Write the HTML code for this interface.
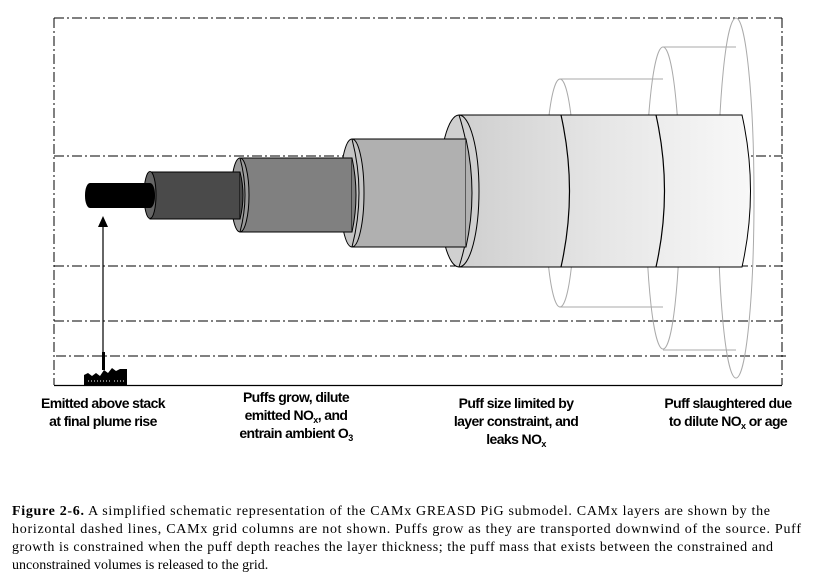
<!DOCTYPE html>
<html><head><meta charset="utf-8"><style>
html,body{margin:0;padding:0;background:#fff;width:813px;height:576px;overflow:hidden}
svg{display:block}
.l{font-family:"Liberation Sans",sans-serif;font-size:14px;font-weight:bold;text-anchor:middle;letter-spacing:-0.6px}
.c{font-family:"Liberation Serif",serif;font-size:14px}
</style></head><body>
<svg width="813" height="576" viewBox="0 0 813 576">
<defs>
<linearGradient id="g5" x1="0" x2="1"><stop offset="0" stop-color="#cfcfcf"/><stop offset="0.5" stop-color="#e6e6e6"/><stop offset="1" stop-color="#f8f8f8"/></linearGradient>
</defs>
<g stroke="#000" stroke-width="1" stroke-dasharray="10,3,2,3" fill="none">
<line x1="54" y1="18" x2="782" y2="18"/>
<line x1="54" y1="156" x2="782" y2="156"/>
<line x1="54" y1="266" x2="782" y2="266"/>
<line x1="54" y1="321" x2="782" y2="321"/>
<line x1="56" y1="356" x2="786" y2="356"/>
<line x1="54" y1="18" x2="54" y2="385"/>
<line x1="782" y1="18" x2="782" y2="385"/>
</g>
<line x1="54" y1="385.5" x2="782" y2="385.5" stroke="#000" stroke-width="1.2"/>
<g stroke="#aaa" fill="none" stroke-width="1">
<ellipse cx="560" cy="193" rx="15" ry="114"/>
<ellipse cx="663" cy="198" rx="17" ry="151"/>
<ellipse cx="736" cy="198" rx="18" ry="180"/>
<line x1="560" y1="79" x2="663" y2="79"/>
<line x1="560" y1="307" x2="663" y2="307"/>
<line x1="663" y1="47" x2="736" y2="47"/>
<line x1="663" y1="350" x2="736" y2="350"/>
</g>
<path d="M459,115 L742,115 Q759,191 742,267 L459,267 Z" fill="url(#g5)" stroke="#000"/>
<g fill="none" stroke="#000" stroke-width="1.2">
<path d="M561,115 Q578,191 561,267"/>
<path d="M656,115 Q673,191 656,267"/>
</g>
<ellipse cx="459" cy="191" rx="20" ry="76" fill="#d0d0d0" stroke="#000"/>
<path d="M459,115 Q483,191 459,267" fill="none" stroke="#000"/>
<rect x="352" y="139" width="114" height="108" fill="#b0b0b0" stroke="#000"/>
<path d="M466,139 Q478,193 466,247" fill="#b0b0b0" stroke="#000"/>
<ellipse cx="352" cy="193" rx="12" ry="54" fill="#c4c4c4" stroke="#000"/>
<path d="M352,139 Q366,193 352,247" fill="none" stroke="#000"/>
<rect x="240" y="158" width="112" height="74" fill="#808080" stroke="#000"/>
<path d="M352,158 Q360,195 352,232" fill="#808080" stroke="#000"/>
<ellipse cx="240" cy="195" rx="9" ry="37" fill="#999" stroke="#000"/>
<path d="M240,158 Q250,195 240,232" fill="none" stroke="#000"/>
<rect x="150" y="172" width="90" height="47" fill="#4a4a4a" stroke="#000"/>
<path d="M240,172 Q246,195 240,219" fill="#4a4a4a" stroke="#000"/>
<ellipse cx="150" cy="195" rx="6" ry="23.5" fill="#666" stroke="#000"/>
<rect x="85" y="183" width="70" height="25" rx="5" ry="12" fill="#000"/>
<line x1="103" y1="354" x2="103" y2="225" stroke="#000" stroke-width="1.2"/>
<polygon points="103,216 98,227 108,227" fill="#000"/>
<rect x="102" y="352" width="3" height="18" fill="#000"/>
<polygon points="84,385 84,375 88,373 92,376 96,373 100,376 104,370 108,373 112,368 116,371 120,369 127,369 127,385" fill="#000"/>
<g stroke="#fff" stroke-width="1"><line x1="88" y1="381" x2="112" y2="381" stroke-dasharray="1,2"/><line x1="114" y1="381" x2="126" y2="381" stroke-dasharray="1,2"/></g>
<text class="l" x="103" y="408">Emitted above stack</text>
<text class="l" x="103" y="426">at final plume rise</text>
<text class="l" x="296" y="402">Puffs grow, dilute</text>
<text class="l" x="296" y="420">emitted NO<tspan font-size="9" dy="3">x</tspan><tspan dy="-3">, and</tspan></text>
<text class="l" x="296" y="438">entrain ambient O<tspan font-size="9" dy="3">3</tspan></text>
<text class="l" x="516" y="408">Puff size limited by</text>
<text class="l" x="516" y="426">layer constraint, and</text>
<text class="l" x="516" y="444">leaks NO<tspan font-size="9" dy="3">x</tspan></text>
<text class="l" x="728" y="408">Puff slaughtered due</text>
<text class="l" x="728" y="426">to dilute NO<tspan font-size="9" dy="3">x</tspan><tspan dy="-3"> or age</tspan></text>
<text class="c" x="12" y="515" textLength="758" lengthAdjust="spacing"><tspan font-weight="bold">Figure 2-6.</tspan>  A simplified schematic representation of the CAMx GREASD PiG submodel.  CAMx layers are shown by the</text>
<text class="c" x="12" y="533" textLength="789" lengthAdjust="spacing">horizontal dashed lines, CAMx grid columns are not shown.  Puffs grow as they are transported downwind of the source.  Puff</text>
<text class="c" x="12" y="551" textLength="761" lengthAdjust="spacing">growth is constrained when the puff depth reaches the layer thickness; the puff mass that exists between the constrained and</text>
<text class="c" x="12" y="569">unconstrained volumes is released to the grid.</text>
</svg>
</body></html>
